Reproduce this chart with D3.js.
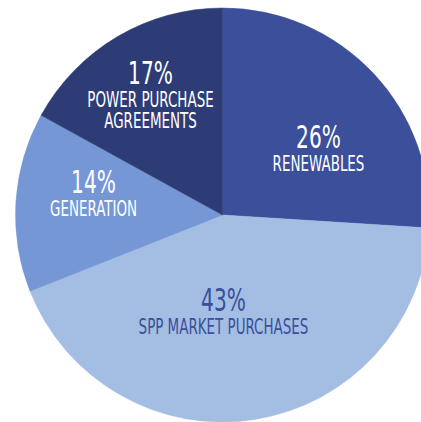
<!DOCTYPE html>
<html>
<head>
<meta charset="utf-8">
<script src="https://cdn.jsdelivr.net/npm/d3@7"></script>
<style>
  html, body { margin: 0; padding: 0; background: #fff; }
  svg { display: block; }
</style>
</head>
<body>
<div class="pieHolder"></div>
<script>
// data
var sources = ["RENEWABLES", "SPP MARKET PURCHASES", "GENERATION", "POWER PURCHASE AGREEMENTS"];
var shares = [26, 43, 14, 17];
var labelLines = [["RENEWABLES"], ["SPP MARKET PURCHASES"], ["GENERATION"], ["POWER PURCHASE", "AGREEMENTS"]];

// look
var fills = ["#3b4f9b", "#a4bee3", "#7697d5", "#2d3c75"];
var textFills = ["#fff", "#3b4f9b", "#fff", "#fff"];
// label anchor (centre x, baseline of the % line), relative to pie centre
var labelAt = [[96, -67], [1, 96], [-129, -22], [-72, -131]];

var w = 421,
    h = 422,
    cx = 222.5,
    cy = 215,
    r = 207;

var svg = d3.select(".pieHolder").append("svg")
    .attr("width", w)
    .attr("height", h);

var rows = sources.map(function(s, i) {
    return {name: s, value: shares[i], fill: fills[i], text: textFills[i], lines: labelLines[i], at: labelAt[i]};
});

var pie = d3.pie()
    .sort(null)
    .value(function(d) { return d.value; });

var arc = d3.arc()
    .innerRadius(0)
    .outerRadius(r);

var g = svg.append("g")
    .attr("transform", "translate(" + cx + "," + cy + ")");

g.selectAll(".slice")
    .data(pie(rows))
    .enter().append("path")
    .attr("class", "slice")
    .attr("d", arc)
    .attr("fill", function(d) { return d.data.fill; })
    .attr("stroke", function(d) { return d.data.fill; })
    .attr("stroke-width", 0.5);

var font = "'DejaVu Sans Condensed', 'DejaVu Sans', sans-serif";

var labels = g.selectAll(".lbl")
    .data(rows)
    .enter().append("g")
    .attr("class", "lbl")
    .attr("transform", function(d) { return "translate(" + d.at[0] + "," + d.at[1] + ")"; });

labels.append("text")
    .attr("transform", "scale(0.70,1)")
    .attr("text-anchor", "middle")
    .attr("font-family", font)
    .attr("font-size", 32)
    .attr("fill", function(d) { return d.text; })
    .text(function(d) { return d.value + "%"; });

labels.each(function(d) {
    var sel = d3.select(this);
    d.lines.forEach(function(line, k) {
        sel.append("text")
            .attr("transform", "translate(0," + (23 + k * 21) + ") scale(0.68,1)")
            .attr("text-anchor", "middle")
            .attr("font-family", font)
            .attr("font-size", 22)
            .attr("fill", d.text)
            .text(line);
    });
});
</script>
</body>
</html>
